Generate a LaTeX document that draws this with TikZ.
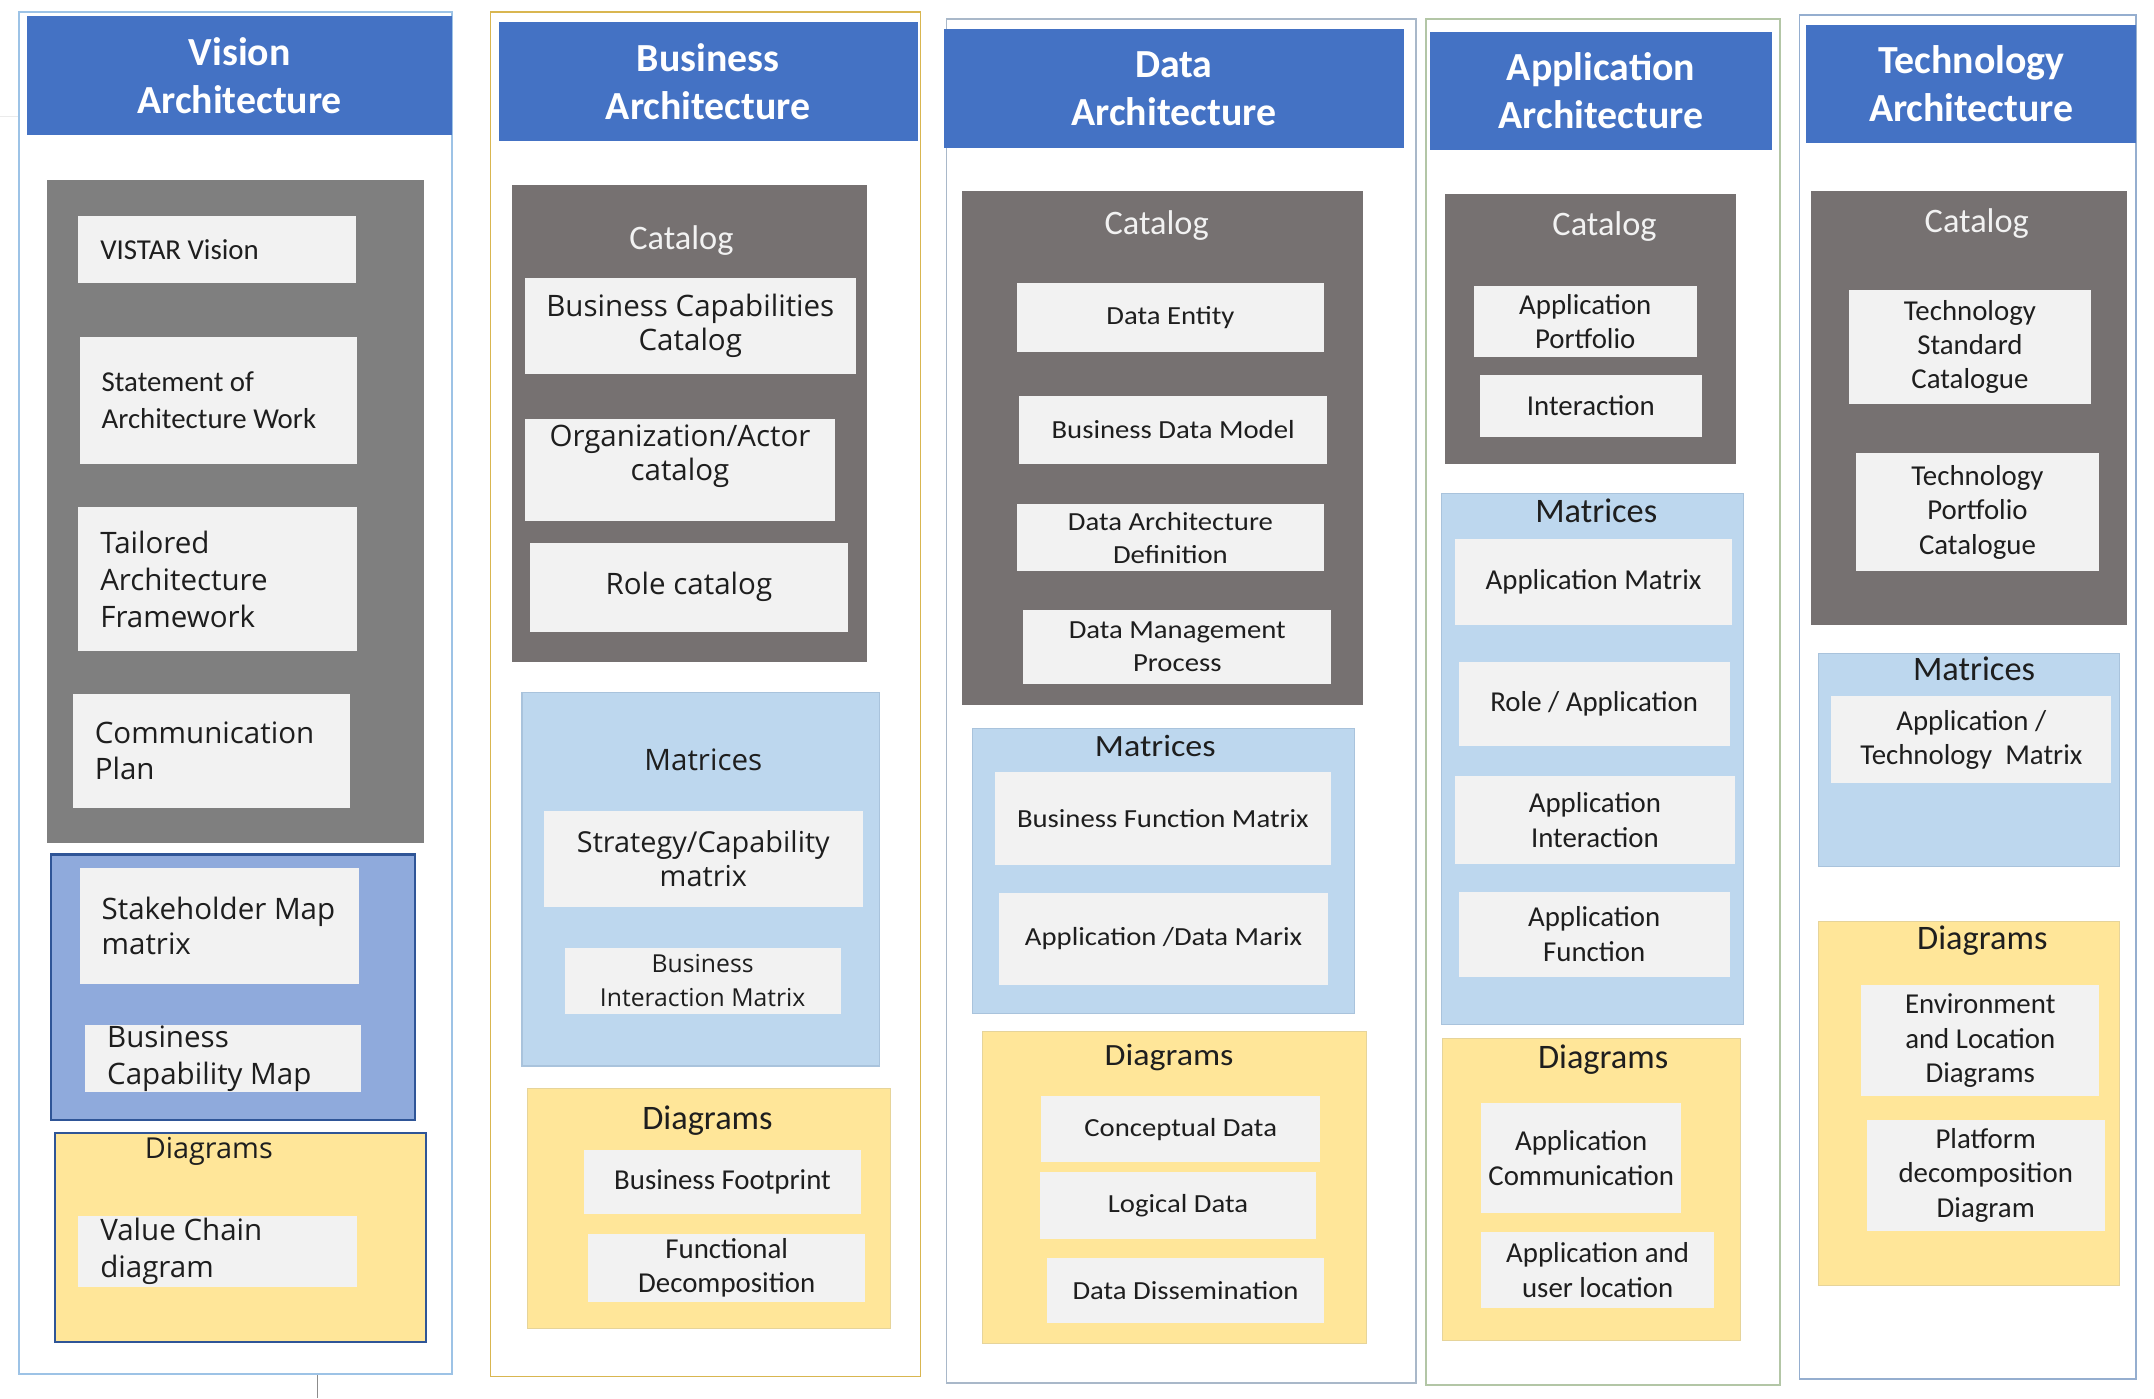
\documentclass[tikz,border=0pt]{standalone}
\usepackage{fontspec}
\setmainfont{Carlito}
\newfontfamily\aptf{Open Sans}
\newfontfamily\datf[FakeStretch=1.1]{Carlito}
\definecolor{hdr}{HTML}{4472C4}
\definecolor{gryv}{HTML}{7F7F7F}
\definecolor{gry}{HTML}{767171}
\definecolor{lite}{HTML}{F2F2F2}
\definecolor{mblue}{HTML}{BDD7EE}
\definecolor{mbord}{HTML}{A9C3DC}
\definecolor{vblue}{HTML}{8FAADC}
\definecolor{dblue}{HTML}{2F5597}
\definecolor{yel}{HTML}{FFE699}
\definecolor{ybord}{HTML}{E6D49A}
\definecolor{txt}{HTML}{1E1E1E}
\definecolor{bv}{HTML}{9DC3E6}
\definecolor{bb}{HTML}{D9B650}
\definecolor{bd}{HTML}{A9B8C9}
\definecolor{ba}{HTML}{B3C6A6}
\definecolor{bt}{HTML}{95AECF}
\newcommand\bx[7]{%
  \pgfmathsetmacro\bxW{#4-#2}\pgfmathsetmacro\bxH{#5-#3}%
  \pgfmathsetmacro\bxX{(#2+#4)/2}\pgfmathsetmacro\bxY{(#3+#5)/2}%
  \node[minimum width=\bxW pt, minimum height=\bxH pt, inner sep=0pt, #6] (#1) at (\bxX,\bxY) {#7};}
\newcommand\lbx[7]{%
  \pgfmathsetmacro\bxW{#4-#2}\pgfmathsetmacro\bxH{#5-#3}%
  \pgfmathsetmacro\bxT{#4-#2-32}%
  \pgfmathsetmacro\bxX{(#2+#4)/2}\pgfmathsetmacro\bxY{(#3+#5)/2}%
  \node[#6, minimum width=\bxW pt, minimum height=\bxH pt, inner ysep=0pt, inner xsep=16pt, text width=\bxT pt, align=flush left] (#1) at (\bxX,\bxY) {#7};}
\tikzset{
  outer/.style={draw=#1, line width=1.3pt, fill=white},
  hdrbox/.style={fill=hdr, text=white, align=center, font=\fontsize{29}{35}\selectfont\bfseries},
  catbox/.style={fill=gry},
  item/.style={fill=lite, text=txt, align=center},
  cf/.style={font=\fontsize{21}{25}\selectfont},
  af/.style={font=\aptf\fontsize{21.5}{26}\selectfont},
  afw/.style={font=\aptf\fontsize{21.5}{27}\selectfont},
  df/.style={font=\datf\fontsize{19}{24}\selectfont},
  mtx/.style={fill=mblue, draw=mbord, line width=0.8pt},
  dia/.style={fill=yel, draw=ybord, line width=0.6pt},
  lbl/.style={text=txt, inner sep=0pt, font=\fontsize{25}{30}\selectfont},
  catlbl/.style={text=lite, inner sep=0pt, font=\fontsize{25}{30}\selectfont},
}
\begin{document}
\begin{tikzpicture}[x=1pt,y=-1pt]
\useasboundingbox (0,0) rectangle (1568,1018);
\fill[white] (0,0) rectangle (1568,1018);
% faint artifacts
\coordinate (fa1) at (0,85); \coordinate (fa2) at (14,85);
\draw[black!8, line width=0.8pt] (fa1) -- (fa2);
\coordinate (fb1) at (231,1000); \coordinate (fb2) at (231,1018);
\draw[black!45, line width=0.8pt] (fb1) -- (fb2);

% ================= Vision =================
\bx{vout}{14}{9}{329}{1000}{outer=bv}{}
\bx{vhdr}{20}{12}{329}{98}{hdrbox}{Vision\\Architecture}
\bx{vcat}{34}{131}{309}{614}{fill=gryv}{}
\lbx{v1}{57}{157}{259}{206}{item,cf}{VISTAR Vision}
\lbx{v2}{58}{245}{260}{338}{item,cf,font=\fontsize{21}{27}\selectfont}{Statement of\\Architecture Work}
\lbx{v3}{57}{369}{260}{474}{item,afw}{Tailored\\Architecture\\Framework}
\lbx{v4}{53}{505}{255}{588}{item,af}{Communication\\Plan}
\bx{vmtx}{37}{622}{302}{815}{fill=vblue, draw=dblue, line width=1.6pt}{}
\lbx{v5}{58}{632}{261}{716}{item,af}{\mbox{Stakeholder Map}\\matrix}
\lbx{v6}{62}{746}{263}{795}{item,afw}{Business\\Capability Map}
\bx{vdia}{40}{825}{310}{977}{fill=yel, draw=dblue, line width=1.6pt}{}
\node[lbl, font=\aptf\fontsize{21}{26}\selectfont] (vdial) at (152,838) {Diagrams};
\lbx{v7}{57}{885}{260}{937}{item,afw}{Value Chain\\diagram}

% ================= Business =================
\bx{bout}{357}{9}{670}{1002}{outer=bb}{}
\bx{bhdr}{363}{16}{668}{103}{hdrbox}{Business\\Architecture}
\bx{bcat}{373}{135}{631}{482}{catbox}{}
\node[catlbl] (bcatl) at (496,175) {Catalog};
\bx{b1}{382}{202}{623}{272}{item,af,font=\aptf\fontsize{21.5}{25}\selectfont}{Business Capabilities\\Catalog}
\bx{b2}{382}{305}{608}{379}{item,af,font=\aptf\fontsize{21.5}{25}\selectfont}{Organization/Actor\\catalog\\\mbox{}}
\bx{b3}{386}{395}{617}{460}{item,af,font=\aptf\fontsize{21.5}{25}\selectfont}{Role catalog}
\bx{bmtx}{380}{504}{640}{776}{mtx}{}
\node[lbl, font=\aptf\fontsize{21.5}{26}\selectfont] (bmtxl) at (512,553) {Matrices};
\bx{b4}{396}{590}{628}{660}{item,af,font=\aptf\fontsize{21}{25}\selectfont}{Strategy/Capability\\matrix}
\bx{b5}{411}{690}{612}{738}{item,af,font=\aptf\fontsize{18}{25}\selectfont}{Business\\Interaction Matrix}
\bx{bdia}{384}{792}{648}{967}{dia}{}
\node[lbl] (bdial) at (515,816) {Diagrams};
\bx{b6}{425}{837}{627}{884}{item,cf}{Business Footprint}
\bx{b7}{428}{898}{630}{948}{item,cf}{Functional\\Decomposition}

% ================= Data =================
\bx{dout}{689}{14}{1031}{1007}{outer=bd}{}
\bx{dhdr}{687}{21}{1022}{108}{hdrbox}{Data\\Architecture}
\bx{dcat}{700}{139}{992}{513}{catbox}{}
\node[catlbl] (dcatl) at (842,164) {Catalog};
\bx{d1}{740}{206}{964}{256}{item,df}{Data Entity}
\bx{d2}{742}{288}{966}{338}{item,df}{Business Data Model}
\bx{d3}{740}{367}{964}{416}{item,df}{Data Architecture\\Definition}
\bx{d4}{745}{444}{969}{498}{item,df}{Data Management\\Process}
\bx{dmtx}{708}{530}{986}{738}{mtx}{}
\node[lbl, font=\datf\fontsize{22.5}{26}\selectfont] (dmtxl) at (841,543) {Matrices};
\bx{d5}{724}{562}{969}{630}{item,df}{Business Function Matrix}
\bx{d6}{727}{650}{967}{717}{item,df}{Application /Data Marix}
\bx{ddia}{715}{751}{995}{978}{dia}{}
\node[lbl, font=\datf\fontsize{22.5}{26}\selectfont] (ddial) at (851,770) {Diagrams};
\bx{d7}{758}{798}{961}{846}{item,df}{Conceptual Data}
\bx{d8}{757}{853}{958}{902}{item,df}{Logical Data}
\bx{d9}{762}{916}{964}{963}{item,df}{Data Dissemination}

% ================= Application =================
\bx{aout}{1038}{14}{1296}{1008}{outer=ba}{}
\bx{ahdr}{1041}{23}{1290}{109}{hdrbox}{Application\\Architecture}
\bx{acat}{1052}{141}{1264}{338}{catbox}{}
\node[catlbl] (acatl) at (1168,165) {Catalog};
\bx{a1}{1073}{208}{1235}{260}{item,cf}{Application\\Portfolio}
\bx{a2}{1077}{273}{1239}{318}{item,cf}{Interaction}
\bx{amtx}{1049}{359}{1269}{746}{mtx}{}
\node[lbl] (amtxl) at (1162,372) {Matrices};
\bx{a3}{1059}{392}{1261}{455}{item,cf}{Application Matrix}
\bx{a4}{1062}{482}{1259}{543}{item,cf}{Role / Application}
\bx{a5}{1059}{565}{1263}{629}{item,cf}{Application\\Interaction}
\bx{a6}{1062}{649}{1259}{711}{item,cf}{Application\\Function}
\bx{adia}{1050}{756}{1267}{976}{dia}{}
\node[lbl] (adial) at (1167,771) {Diagrams};
\bx{a7}{1078}{803}{1224}{883}{item,cf}{Application\\Communication}
\bx{a8}{1078}{897}{1248}{952}{item,cf}{Application and\\user location}

% ================= Technology =================
\bx{tout}{1310}{11}{1555}{1004}{outer=bt}{}
\bx{thdr}{1315}{18}{1555}{104}{hdrbox}{Technology\\Architecture}
\bx{tcat}{1318}{139}{1548}{455}{catbox}{}
\node[catlbl] (tcatl) at (1439,163) {Catalog};
\bx{t1}{1346}{211}{1522}{294}{item,cf}{Technology\\Standard\\Catalogue}
\bx{t2}{1351}{330}{1528}{416}{item,cf}{Technology\\Portfolio\\Catalogue}
\bx{tmtx}{1324}{476}{1543}{631}{mtx}{}
\node[lbl] (tmtxl) at (1437,487) {Matrices};
\bx{t3}{1333}{507}{1537}{570}{item,cf}{Application /\\Technology\ \ Matrix}
\bx{tdia}{1324}{671}{1543}{936}{dia}{}
\node[lbl] (tdial) at (1443,685) {Diagrams};
\bx{t4}{1355}{717}{1528}{798}{item,cf}{Environment\\and Location\\Diagrams}
\bx{t5}{1359}{815}{1532}{896}{item,cf}{Platform\\decomposition\\Diagram}
\end{tikzpicture}
\end{document}
